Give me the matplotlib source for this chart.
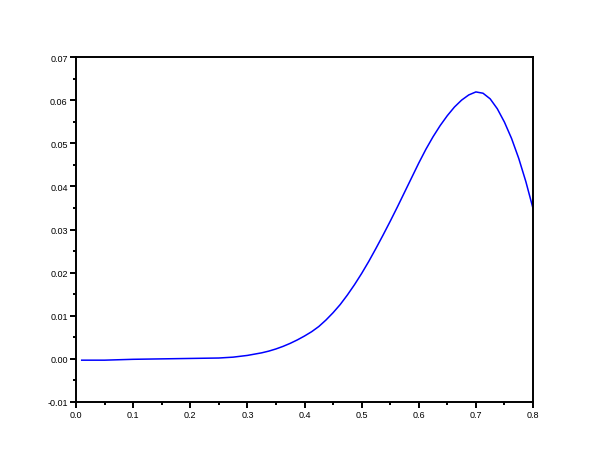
import matplotlib
matplotlib.use("Agg")
import matplotlib.pyplot as plt
from matplotlib.ticker import MultipleLocator, FormatStrFormatter

x_vals = [0.01, 0.05, 0.10, 0.15, 0.20, 0.25, 0.275, 0.2875,
          0.3, 0.3125, 0.325, 0.3375, 0.35, 0.3625, 0.375, 0.3875,
          0.4, 0.4125, 0.425, 0.4375, 0.45, 0.4625, 0.475, 0.4875,
          0.5, 0.5125, 0.525, 0.5375, 0.55, 0.5625, 0.575, 0.5875,
          0.6, 0.6125, 0.625, 0.6375, 0.65, 0.6625, 0.675, 0.6875,
          0.7, 0.7125, 0.725, 0.7375, 0.75, 0.7625, 0.775, 0.7875, 0.8]
y_vals = [-0.0003, -0.0003, -0.0001, 0.0, 0.0001, 0.0002, 0.0004, 0.0006,
          0.0008, 0.0011, 0.0014, 0.0018, 0.0023, 0.0029, 0.0036, 0.0044,
          0.0053, 0.0063, 0.0075, 0.0090, 0.0107, 0.0126, 0.0148, 0.0172,
          0.0198, 0.0226, 0.0256, 0.0287, 0.0319, 0.0352, 0.0386, 0.0420,
          0.0454, 0.0486, 0.0515, 0.0541, 0.0564, 0.0584, 0.0600, 0.0612,
          0.0619, 0.0616, 0.0603, 0.0580, 0.0549, 0.0511, 0.0465, 0.0411, 0.0349]

plt.rcParams['font.family'] = ['Liberation Sans', 'DejaVu Sans']

fig = plt.figure(figsize=(6.1, 4.6), dpi=100)
ax = fig.add_axes([76/610, 1 - 403/460, (533-76)/610, (403-58)/460])
ax.plot(x_vals, y_vals, color=(0, 0, 1), linewidth=1.1)

ax.set_xlim(0.0, 0.8)
ax.set_ylim(-0.01, 0.07)
ax.xaxis.set_major_locator(MultipleLocator(0.1))
ax.xaxis.set_minor_locator(MultipleLocator(0.05))
ax.yaxis.set_major_locator(MultipleLocator(0.01))
ax.yaxis.set_minor_locator(MultipleLocator(0.005))
ax.xaxis.set_major_formatter(FormatStrFormatter('%.1f'))
ax.yaxis.set_major_formatter(FormatStrFormatter('%.2f'))

for s in ax.spines.values():
    s.set_linewidth(1.4)
    s.set_color('black')

ax.tick_params(which='major', direction='out', length=4, width=1.4,
               labelsize=6.5, pad=2, colors='black')
ax.tick_params(which='minor', direction='out', length=2.5, width=1.4)

fig.savefig('out.png', dpi=100, facecolor='white')
